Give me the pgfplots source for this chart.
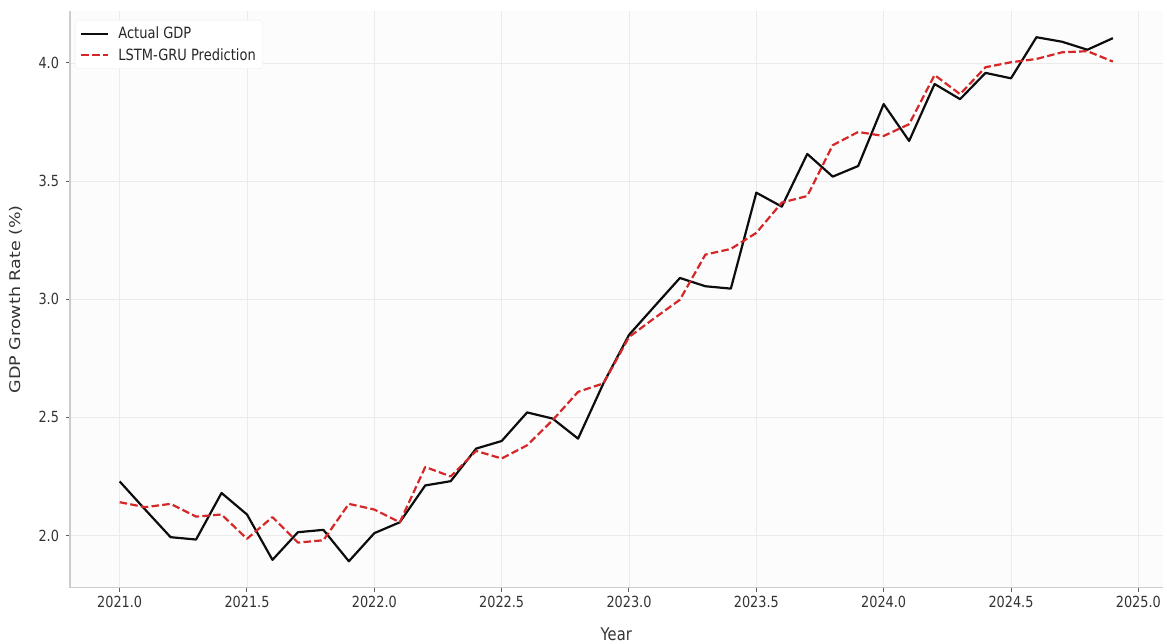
\documentclass[border=0pt]{standalone}
\usepackage{fontspec}
\setmainfont{DejaVu Sans}[FakeStretch=0.84]
\newfontfamily\uprightlabel{DejaVu Sans}
\usepackage{graphicx}
\usepackage{pgfplots}
\pgfplotsset{compat=1.18}

\definecolor{gridgray}{HTML}{EBEBEB}
\definecolor{spinegray}{HTML}{CCCCCC}
\definecolor{ticktext}{HTML}{333333}
\definecolor{predred}{HTML}{D62728}
\definecolor{panelbg}{HTML}{FCFCFC}

% Quarterly-style series: actual GDP growth and the LSTM-GRU forecast
\pgfplotstableread{
year   gdp    pred
2021.0 2.229  2.141
2021.1 2.110  2.120
2021.2 1.993  2.134
2021.3 1.983  2.080
2021.4 2.180  2.089
2021.5 2.089  1.986
2021.6 1.897  2.078
2021.7 2.014  1.970
2021.8 2.024  1.980
2021.9 1.891  2.134
2022.0 2.010  2.110
2022.1 2.056  2.056
2022.2 2.212  2.290
2022.3 2.230  2.250
2022.4 2.368  2.358
2022.5 2.400  2.326
2022.6 2.521  2.382
2022.7 2.495  2.488
2022.8 2.410  2.608
2022.9 2.645  2.644
2023.0 2.849  2.840
2023.1 2.970  2.920
2023.2 3.090  2.998
2023.3 3.055  3.189
2023.4 3.045  3.213
2023.5 3.451  3.281
2023.6 3.392  3.409
2023.7 3.615  3.437
2023.8 3.519  3.652
2023.9 3.564  3.708
2024.0 3.826  3.691
2024.1 3.670  3.741
2024.2 3.911  3.949
2024.3 3.847  3.868
2024.4 3.958  3.982
2024.5 3.935  4.003
2024.6 4.109  4.017
2024.7 4.090  4.045
2024.8 4.056  4.050
2024.9 4.105  4.006
}\gdpdata

\begin{document}
\begin{tikzpicture}
\begin{axis}[
    at={(0,0)}, anchor=south west,
    scale only axis,
    width=1092.5bp, height=576.5bp,
    xmin=2020.805, xmax=2025.095,
    ymin=1.78, ymax=4.22,
    xtick={2021,2021.5,2022,2022.5,2023,2023.5,2024,2024.5,2025},
    ytick={2,2.5,3,3.5,4},
    scaled ticks=false,
    /pgf/number format/.cd, fixed, fixed zerofill, precision=1, 1000 sep={}, assume math mode=true,
    /pgfplots/.cd,
    axis lines*=left,
    axis line style={draw=spinegray, line width=1.3bp, -},
    axis background/.style={fill=panelbg},
    grid=major,
    major grid style={draw=gridgray, line width=0.9bp},
    tick align=outside,
    major tick length=4.5bp,
    tick style={draw=ticktext!80, line width=1bp},
    tick label style={font=\fontsize{15.3bp}{18bp}\selectfont, text=ticktext},
    xticklabel style={yshift=-1bp},
    yticklabel style={xshift=-3bp},
    xlabel={Year},
    ylabel={\scalebox{1}[0.84]{\uprightlabel GDP Growth Rate (\%)}},
    every axis x label/.style={at={(axis description cs:0.5,0)}, yshift=-46.5bp, anchor=center,
        font=\fontsize{17.5bp}{20bp}\selectfont, text=ticktext},
    every axis y label/.style={at={(axis description cs:0,0.5)}, xshift=-54bp, rotate=90, anchor=center,
        font=\fontsize{17.5bp}{20bp}\selectfont, text=ticktext},
    legend style={
        at={(axis description cs:0,1)}, anchor=north west,
        xshift=5bp, yshift=-9bp,
        fill=white, draw=gridgray, rounded corners=3bp,
        font=\fontsize{15.5bp}{18bp}\selectfont, text=black!85,
        inner xsep=5bp, inner ysep=5bp,
        row sep=4bp,
        /tikz/every odd column/.append style={column sep=7bp},
    },
    legend cell align=left,
    legend image code/.code={\draw[#1] (0bp,0bp) -- (27bp,0bp);},
]
\addplot[black!95, line width=2.2bp, line join=round] table[x=year, y=gdp] {\gdpdata};
\addlegendentry{Actual GDP}
\addplot[predred, line width=2.2bp, dash pattern=on 7.5bp off 3.3bp, line join=round] table[x=year, y=pred] {\gdpdata};
\addlegendentry{LSTM-GRU Prediction}
\end{axis}
\pgfresetboundingbox
\path[use as bounding box] (-70bp,-56.5bp) rectangle (1097bp,587.5bp);
\end{tikzpicture}
\end{document}
